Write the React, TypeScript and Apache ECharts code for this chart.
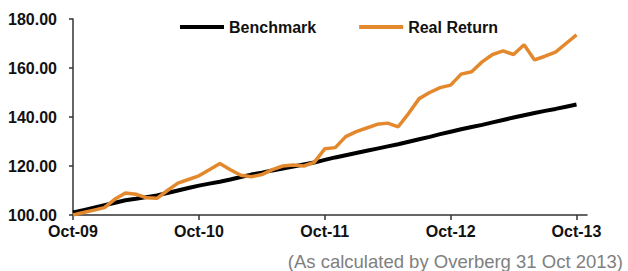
import React, { useEffect, useRef } from "react";
import * as echarts from "echarts";

const months = [
  "Oct-09","Nov-09","Dec-09","Jan-10","Feb-10","Mar-10","Apr-10","May-10","Jun-10","Jul-10","Aug-10","Sep-10",
  "Oct-10","Nov-10","Dec-10","Jan-11","Feb-11","Mar-11","Apr-11","May-11","Jun-11","Jul-11","Aug-11","Sep-11",
  "Oct-11","Nov-11","Dec-11","Jan-12","Feb-12","Mar-12","Apr-12","May-12","Jun-12","Jul-12","Aug-12","Sep-12",
  "Oct-12","Nov-12","Dec-12","Jan-13","Feb-13","Mar-13","Apr-13","May-13","Jun-13","Jul-13","Aug-13","Sep-13",
  "Oct-13","Nov-13",
];

const benchmark = [
  101.0, 102.0, 103.0, 104.0, 105.0, 106.0, 106.6, 107.3, 108.0, 109.0, 110.0, 111.0,
  112.0, 112.8, 113.6, 114.5, 115.5, 116.5, 117.3, 118.2, 119.0, 119.8, 120.6, 121.4,
  122.5, 123.5, 124.4, 125.3, 126.2, 127.1, 128.0, 128.9, 129.9, 130.9, 131.9, 133.0,
  134.0, 135.0, 135.9, 136.8, 137.8, 138.8, 139.8, 140.7, 141.6, 142.5, 143.3, 144.2,
  145.1,
];

const realReturn = [
  100.0, 101.0, 102.0, 103.0, 106.5, 109.0, 108.5, 107.0, 106.8, 110.0, 113.0, 114.5,
  116.0, 118.5, 121.0, 118.5, 116.2, 115.6, 116.5, 118.5, 120.0, 120.4, 120.0, 121.5,
  127.0, 127.5, 132.0, 134.0, 135.5, 137.0, 137.5, 136.0, 141.5, 147.5, 150.0, 152.0,
  153.0, 157.5, 158.5, 162.5, 165.5, 167.0, 165.5, 169.5, 163.3, 164.8, 166.5, 170.0,
  173.5,
];

const footnote = "(As calculated by Overberg 31 Oct 2013)";

export default function App() {
  const ref = useRef<HTMLDivElement>(null);
  useEffect(() => {
    if (!ref.current) return;
    const chart = echarts.init(ref.current, null, { renderer: "svg" });
    const font = "'Liberation Sans', Arial, sans-serif";
    chart.setOption({
      animation: false,
      backgroundColor: "#ffffff",
      grid: { left: 73, right: 41, top: 19, bottom: 56 },
      legend: {
        left: 175,
        top: 14,
        icon: "rect",
        itemWidth: 44,
        itemHeight: 4,
        itemGap: 43,
        textStyle: { fontFamily: font, fontWeight: "bold", fontSize: 16, color: "#111" },
        data: ["Benchmark", "Real Return"],
      },
      xAxis: {
        type: "category",
        data: months,
        boundaryGap: false,
        axisLine: { lineStyle: { color: "#333", width: 1.5 } },
        axisTick: { show: true, length: 5, interval: (i: number) => i % 12 === 0, lineStyle: { color: "#333", width: 1.5 } },
        axisLabel: {
          interval: (i: number) => i % 12 === 0,
          fontFamily: font,
          fontWeight: "bold",
          fontSize: 16,
          color: "#111",
          margin: 8,
        },
        splitLine: { show: false },
      },
      yAxis: {
        type: "value",
        min: 100,
        max: 180,
        interval: 20,
        axisLine: { show: true, lineStyle: { color: "#333", width: 1.5 } },
        axisTick: { show: true, length: 4, lineStyle: { color: "#333", width: 1.5 } },
        axisLabel: {
          formatter: (v: number) => v.toFixed(2),
          fontFamily: font,
          fontWeight: "bold",
          fontSize: 16,
          color: "#111",
          margin: 16,
        },
        splitLine: { show: false },
      },
      series: [
        {
          name: "Benchmark",
          type: "line",
          data: benchmark,
          symbol: "none",
          lineStyle: { color: "#000000", width: 4 },
          itemStyle: { color: "#000000" },
          z: 2,
        },
        {
          name: "Real Return",
          type: "line",
          data: realReturn,
          symbol: "none",
          lineStyle: { color: "#E3882C", width: 3.5 },
          itemStyle: { color: "#E3882C" },
          z: 3,
        },
      ],
      graphic: [
        {
          type: "text",
          right: 5,
          top: 252,
          style: {
            text: footnote,
            fill: "#808080",
            font: `18.5px ${font}`,
          },
        },
      ],
    });
    return () => chart.dispose();
  }, []);
  return (
    <div
      ref={ref}
      style={{ position: "fixed", left: 0, top: 0, width: 628, height: 271 }}
    />
  );
}
